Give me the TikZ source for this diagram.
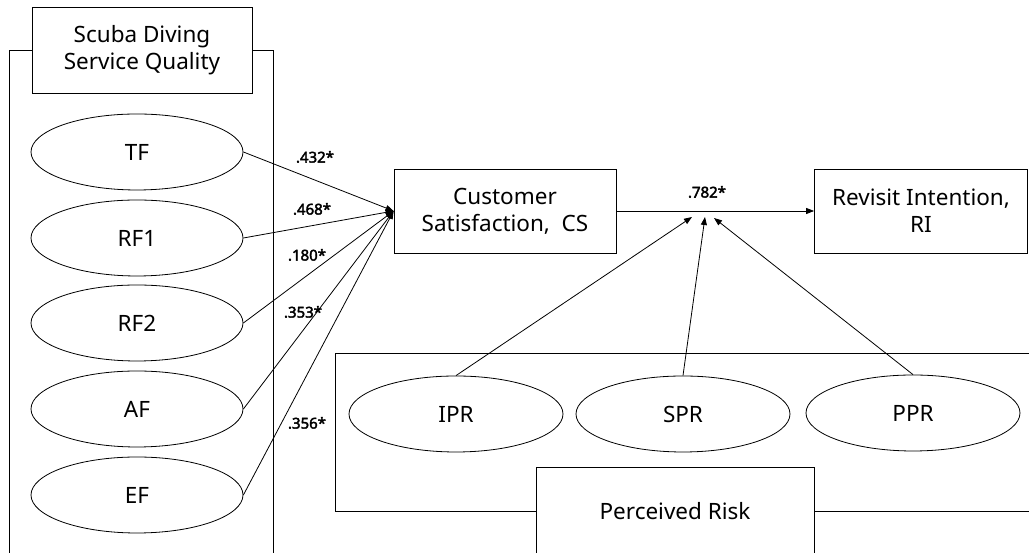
\documentclass[tikz,border=0pt]{standalone}
\usepackage{fontspec}
\setmainfont{Noto Sans}[AutoFakeBold=2.5]
\usetikzlibrary{shapes.geometric,arrows.meta}

\begin{document}
\begin{tikzpicture}[x=1pt, y=1pt, line width=0.8pt,
    every node/.style={font=\fontsize{22.5}{27}\selectfont, inner sep=0pt, align=center},
    oval/.style={draw, ellipse, minimum width=212pt, minimum height=76pt},
    box/.style={draw, minimum height=84pt},
    coef/.style={font=\fontsize{15}{18}\selectfont\bfseries},
    arr/.style={-{Triangle[length=8pt, width=6pt]}}]
    \useasboundingbox (0, 0) rectangle (1029, 553);

    \node[box, minimum width=220pt, minimum height=86pt] (sdsq) at (142, 503) {Scuba Diving\\Service Quality};
    \node[oval] (tf) at (137, 401) {TF};
    \node[oval] (rf1) at (137, 315) {RF1};
    \node[oval] (rf2) at (137, 230) {RF2};
    \node[oval] (af) at (137, 144) {AF};
    \node[oval] (ef) at (137, 58) {EF};

    \node[box, minimum width=222pt] (cs) at (505, 342) {Customer\\Satisfaction,\ \ CS};
    \node[box, minimum width=213pt] (ri) at (921, 342) {Revisit Intention,\\RI};

    \node[oval, minimum width=214pt] (ipr) at (456, 139) {IPR};
    \node[oval, minimum width=214pt] (spr) at (683, 139) {SPR};
    \node[oval, minimum width=214pt] (ppr) at (913, 140) {PPR};
    \node[draw, minimum width=278pt, minimum height=88pt] (pr) at (675, 42) {Perceived Risk};

    \coordinate (lf) at (9, -1);
    \coordinate (rf) at (273, -1);
    \draw (sdsq.west) -| (lf);
    \draw (sdsq.east) -| (rf);

    \coordinate (rk1) at (335, 200);
    \coordinate (rk2) at (1030, 200);
    \coordinate (rk3) at (1030, 42);
    \draw (rk2) -- (rk1) |- (pr.west);
    \draw (pr.east) -- (rk3);

    \draw[arr] (tf.east) -- (cs.west);
    \draw[arr] (rf1.east) -- (cs.west);
    \draw[arr] (rf2.east) -- (cs.west);
    \draw[arr] (af.east) -- (cs.west);
    \draw[arr] (ef.east) -- (cs.west);
    \draw[arr] (cs.east) -- (ri.west);

    \coordinate (t1) at (692, 336);
    \coordinate (t2) at (705, 336);
    \coordinate (t3) at (714, 335);
    \draw[arr] (ipr.north) -- (t1);
    \draw[arr] (spr.north) -- (t2);
    \draw[arr] (ppr.north) -- (t3);

    \node[coef] (c1) at (315, 396) {.432*};
    \node[coef] (c2) at (312, 344) {.468*};
    \node[coef] (c3) at (307, 298) {.180*};
    \node[coef] (c4) at (303, 241) {.353*};
    \node[coef] (c5) at (307, 130) {.356*};
    \node[coef] (c6) at (707, 361) {.782*};
\end{tikzpicture}
\end{document}
